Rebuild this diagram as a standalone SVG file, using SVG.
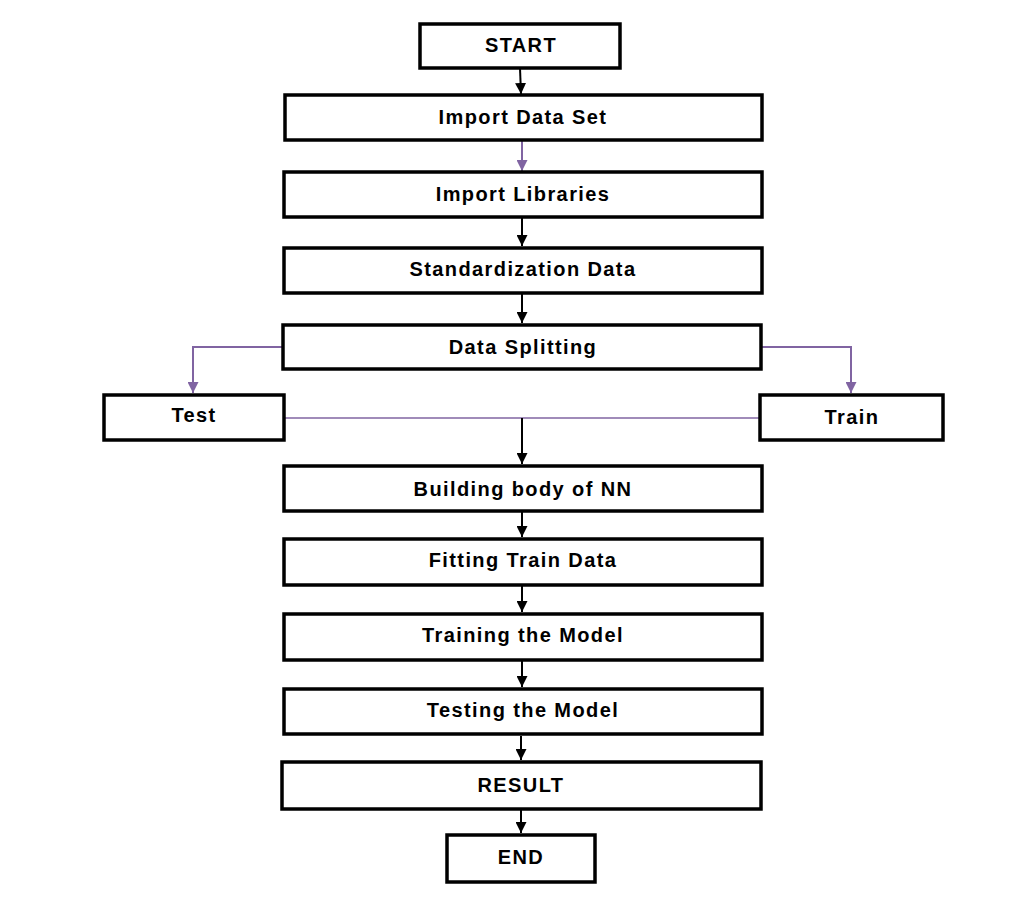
<svg xmlns="http://www.w3.org/2000/svg" width="1033" height="913" viewBox="0 0 1033 913">
<defs>
<style>
.box{fill:#fff;stroke:#000;stroke-width:3.5}
.t{font-family:"Liberation Sans",Arial,sans-serif;font-weight:bold;font-size:20px;letter-spacing:1.4px;fill:#000;text-anchor:middle}
.blk{stroke:#000;stroke-width:2;fill:none}
.pur{stroke:#8064A2;stroke-width:2;fill:none}
.purt{stroke:#8064A2;stroke-width:1.5;fill:none}
</style>
<marker id="ab" markerWidth="11" markerHeight="11" refX="11" refY="5.5" orient="auto" markerUnits="userSpaceOnUse"><path d="M0,0 L11,5.5 L0,11 Z" fill="#000"/></marker>
<marker id="ap" markerWidth="11" markerHeight="11" refX="11" refY="5.5" orient="auto" markerUnits="userSpaceOnUse"><path d="M0,0 L11,5.5 L0,11 Z" fill="#8064A2"/></marker>
</defs>
<rect width="1033" height="913" fill="#fff"/>
<g id="connectors">
<line class="blk" x1="520" y1="68" x2="521" y2="94" marker-end="url(#ab)"/>
<line class="pur" x1="522" y1="141" x2="522" y2="171" marker-end="url(#ap)"/>
<line class="blk" x1="522" y1="218" x2="522" y2="246" marker-end="url(#ab)"/>
<line class="blk" x1="522" y1="294" x2="522" y2="323" marker-end="url(#ab)"/>
<polyline class="pur" points="283,347 193,347 193,393" marker-end="url(#ap)"/>
<polyline class="pur" points="761,347 851,347 851,393" marker-end="url(#ap)"/>
<line class="purt" x1="284" y1="418" x2="760" y2="418"/>
<line class="blk" x1="522" y1="418" x2="522" y2="464" marker-end="url(#ab)"/>
<line class="blk" x1="522" y1="512" x2="522" y2="537" marker-end="url(#ab)"/>
<line class="blk" x1="522" y1="586" x2="522" y2="612" marker-end="url(#ab)"/>
<line class="blk" x1="522" y1="661" x2="522" y2="687" marker-end="url(#ab)"/>
<line class="blk" x1="521" y1="736" x2="521" y2="760" marker-end="url(#ab)"/>
<line class="blk" x1="521" y1="810" x2="521" y2="833" marker-end="url(#ab)"/>
</g>
<g id="start"><rect class="box" x="420" y="24" width="200" height="44"/><text class="t" x="521" y="52">START</text></g>
<g id="import-data"><rect class="box" x="285" y="95" width="477" height="45"/><text class="t" x="523" y="124">Import Data Set</text></g>
<g id="import-libs"><rect class="box" x="284" y="172" width="478" height="45"/><text class="t" x="523" y="201">Import Libraries</text></g>
<g id="standardization"><rect class="box" x="284" y="248" width="478" height="45"/><text class="t" x="523" y="276">Standardization Data</text></g>
<g id="splitting"><rect class="box" x="283" y="325" width="478" height="44"/><text class="t" x="523" y="354">Data Splitting</text></g>
<g id="test"><rect class="box" x="104" y="395" width="180" height="45"/><text class="t" x="194" y="422">Test</text></g>
<g id="train"><rect class="box" x="760" y="395" width="183" height="45"/><text class="t" x="852" y="424">Train</text></g>
<g id="building"><rect class="box" x="284" y="466" width="478" height="45"/><text class="t" x="523" y="496">Building body of NN</text></g>
<g id="fitting"><rect class="box" x="284" y="539" width="478" height="46"/><text class="t" x="523" y="567">Fitting Train Data</text></g>
<g id="training"><rect class="box" x="284" y="614" width="478" height="46"/><text class="t" x="523" y="642">Training the Model</text></g>
<g id="testing"><rect class="box" x="284" y="689" width="478" height="45"/><text class="t" x="523" y="717">Testing the Model</text></g>
<g id="result"><rect class="box" x="282" y="762" width="479" height="47"/><text class="t" x="521" y="792">RESULT</text></g>
<g id="end"><rect class="box" x="447" y="835" width="148" height="47"/><text class="t" x="521" y="864">END</text></g>
</svg>
